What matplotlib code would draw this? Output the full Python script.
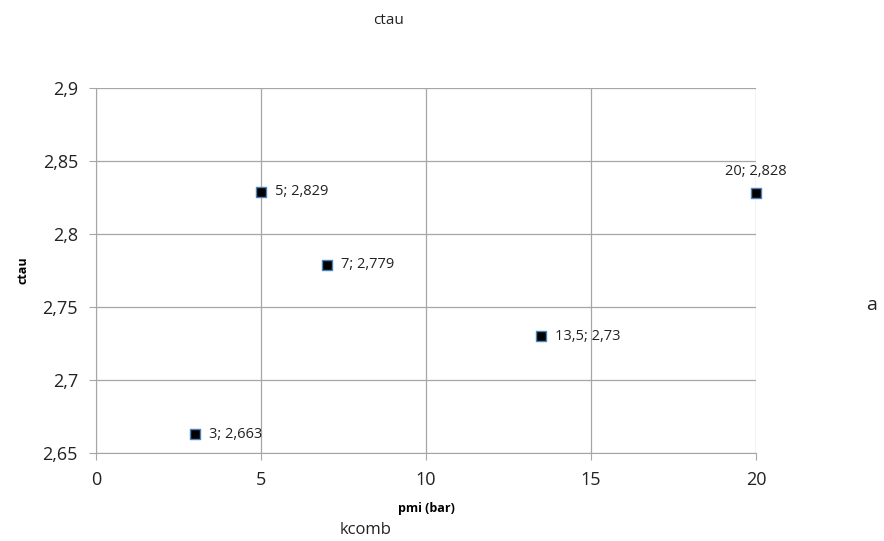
import numpy as np
import matplotlib.pyplot as plt
from matplotlib.ticker import FuncFormatter

plt.rcParams['font.family'] = ['Open Sans', 'DejaVu Sans']

pmi = [3, 5, 7, 13.5, 20]
ctau = [2.663, 2.829, 2.779, 2.73, 2.828]
labels = ['3; 2,663', '5; 2,829', '7; 2,779', '13,5; 2,73', '20; 2,828']

fig = plt.figure(figsize=(8.84, 5.41), dpi=100)
ax = fig.add_axes([0.1086, 0.1627, 0.7466, 0.6746])

ax.scatter(pmi, ctau, marker='s', s=50, c='black', edgecolors='#4f81bd',
           linewidths=1, zorder=3, clip_on=False)
for i, (x, y) in enumerate(zip(pmi, ctau)):
    if i == 4:
        ax.annotate(labels[i], (x, y), xytext=(0, 10), textcoords='offset points',
                    ha='center', va='bottom', fontsize=10.5, color='#222222')
    else:
        ax.annotate(labels[i], (x, y), xytext=(10, 0), textcoords='offset points',
                    ha='left', va='center', fontsize=10.5, color='#222222')

ax.set_xlim(0, 20)
ax.set_ylim(2.65, 2.9)
ax.set_xticks(np.arange(0, 21, 5))
ax.set_yticks(np.arange(2.65, 2.901, 0.05))
ax.yaxis.set_major_formatter(FuncFormatter(lambda v, p: ('%g' % round(v, 3)).replace('.', ',')))
ax.xaxis.set_major_formatter(FuncFormatter(lambda v, p: '%g' % v))
ax.grid(True, color='#a6a6a6', linewidth=0.9)
ax.set_axisbelow(True)
for side in ['top', 'right']:
    ax.spines[side].set_visible(False)
for side in ['left', 'bottom']:
    ax.spines[side].set_color('#a6a6a6')
ax.tick_params(axis='both', labelsize=13, color='#a6a6a6', length=5, labelcolor='#222222')
ax.tick_params(axis='x', pad=8)
ax.tick_params(axis='y', pad=8)

ax.set_xlabel('pmi (bar)', fontsize=9, fontweight='bold', labelpad=9.5)
ax.set_ylabel('ctau', fontsize=9, fontweight='bold', labelpad=9)

fig.text(388/884, 1 - 20/541, 'ctau', ha='center', va='center', fontsize=11, color='#222222')
fig.text(366/884, 1 - 530/541, 'kcomb', ha='center', va='center', fontsize=12, color='#222222')
fig.text(872/884, 1 - 305/541, 'a', ha='center', va='center', fontsize=14, color='#222222')

fig.savefig('out.png')
